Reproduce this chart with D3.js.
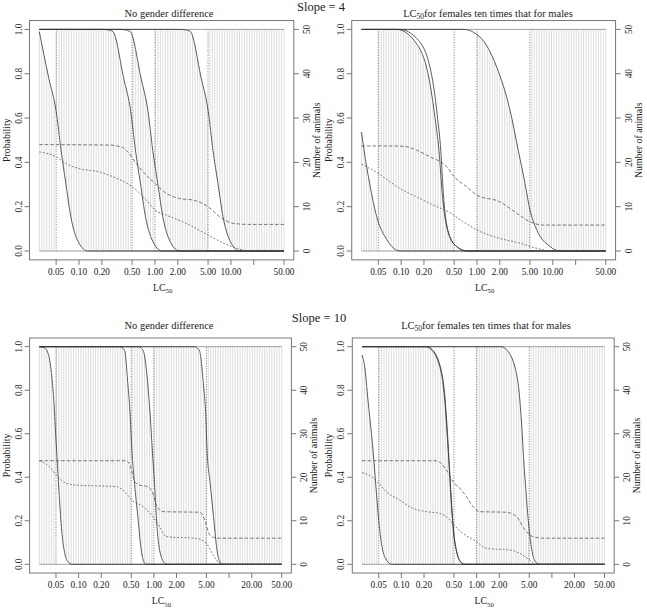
<!DOCTYPE html>
<html><head><meta charset="utf-8">
<script src="https://cdn.jsdelivr.net/npm/d3@7"></script>
<style>
body{margin:0;background:#fff}
svg{display:block}
text{font-family:"Liberation Serif","Times New Roman",serif;fill:#222}
</style>
</head><body>
<svg id="c" width="647" height="608"></svg>
<script>
// ---------- data ----------
const xTicks = [0.05, 0.1, 0.2, 0.5, 1, 2, 5, 10, 20, 50];
const xTickLabelsTop = ["0.05","0.10","0.20","0.50","1.00","2.00","5.00","10.00","","50.00"];
const xTickLabelsBottom = ["0.05","0.10","0.20","0.50","1.00","2.00","5.00","","20.00","50.00"];
const probTicks = [0, 0.2, 0.4, 0.6, 0.8, 1.0];
const probTickLabels = ["0.0","0.2","0.4","0.6","0.8","1.0"];
const animalTicks = [0, 10, 20, 30, 40, 50];
const cutoffs = [0.05, 0.5, 1, 5];
const lc50Range = [0.03, 50];
const gridCount = 100;
const slopeLabels = ["Slope = 4", "Slope = 10"];
const panelTitles = ["No gender difference", "for females ten times that for males"];

// cumulative classification probabilities (LC50, probability)
const tlCat1 = [[0.03,0.99],[0.04,0.78],[0.05,0.63],[0.058,0.455],[0.067,0.305],[0.078,0.155],[0.10,0.035],[0.13,0],[50,0]];
const tlCat2 = [[0.03,1],[0.2,1],[0.24,0.998],[0.28,0.99],[0.387,0.78],[0.48,0.63],[0.553,0.455],[0.644,0.305],[0.75,0.155],[0.965,0.035],[1.24,0],[50,0]];
const tlCat3 = [[0.03,1],[0.34,1],[0.40,0.998],[0.473,0.99],[0.655,0.78],[0.81,0.63],[0.935,0.455],[1.088,0.305],[1.267,0.155],[1.63,0.035],[2.1,0],[50,0]];
const tlCat4 = [[0.03,1],[2.1,1],[2.5,0.998],[2.93,0.99],[4.06,0.78],[5.03,0.63],[5.8,0.455],[6.75,0.305],[7.86,0.155],[10.1,0.035],[13.0,0],[50,0]];
const tlAnimalsA = [[0.03,24],[0.25,23.9],[0.37,23.4],[0.44,22.35],[0.565,19.75],[0.77,17.1],[1.0,15.25],[1.41,13],[2.1,11.85],[3.16,11.5],[5,10],[7.1,7.75],[10.7,6.25],[17,6],[50,6]];
const tlAnimalsB = [[0.03,22.35],[0.05,21.25],[0.067,19.75],[0.10,18.6],[0.185,17.85],[0.28,16.75],[0.5,14.5],[0.77,11.5],[1.0,9.25],[1.41,8.1],[2.58,6.25],[5,3.6],[8.7,1.5],[13,0.4],[17.7,0],[50,0]];

const trCat1 = [[0.03,0.537],[0.0324,0.455],[0.0384,0.305],[0.0476,0.155],[0.065,0.05],[0.097,0],[50,0]];
const trCat2 = [[0.03,1],[0.0875,1],[0.16,0.935],[0.24,0.755],[0.28,0.60],[0.315,0.455],[0.35,0.25],[0.42,0.08],[0.54,0.02],[0.73,0],[50,0]];
const trCat3 = [[0.03,1],[0.095,1],[0.17,0.95],[0.26,0.77],[0.30,0.61],[0.333,0.455],[0.36,0.26],[0.42,0.085],[0.54,0.02],[0.75,0],[50,0]];
const trCat4 = [[0.03,1],[0.66,1],[1.1,0.965],[1.82,0.83],[2.73,0.635],[3.5,0.455],[4.3,0.305],[5.0,0.185],[6.15,0.095],[9.2,0.02],[12.5,0],[50,0]];
const trAnimalsA = [[0.03,23.7],[0.08,23.7],[0.12,23.5],[0.16,22.75],[0.24,21.25],[0.4,19],[0.5,16.75],[0.73,14.5],[1.0,12.6],[2.0,11.1],[3.35,8.5],[5,6.6],[7.5,5.85],[50,5.85]];
const trAnimalsB = [[0.03,19.6],[0.05,17.5],[0.0966,14.1],[0.177,11.85],[0.266,10.35],[0.42,8.85],[0.66,6.6],[1.0,4.75],[2.0,2.85],[3.7,1.75],[6.15,0.6],[10.2,0],[50,0]];

const blCat1 = [[0.03,1],[0.035,0.995],[0.040,0.96],[0.044,0.86],[0.047,0.74],[0.050,0.57],[0.053,0.42],[0.0565,0.26],[0.0605,0.13],[0.065,0.055],[0.072,0.012],[0.082,0],[50,0]];
const blCat2 = [[0.03,1],[0.35,1],[0.407,0.985],[0.451,0.83],[0.485,0.68],[0.51,0.525],[0.553,0.372],[0.612,0.22],[0.679,0.066],[0.752,0.005],[0.8,0],[50,0]];
const blCat3 = [[0.03,1],[0.62,1],[0.715,0.985],[0.83,0.83],[0.895,0.68],[0.953,0.525],[1.02,0.372],[1.077,0.219],[1.19,0.066],[1.39,0.005],[1.5,0],[50,0]];
const blCat4 = [[0.03,1],[3.4,1],[4.0,0.985],[4.55,0.83],[4.9,0.68],[5.09,0.525],[5.6,0.372],[6.2,0.22],[6.9,0.066],[7.7,0.005],[8.2,0],[50,0]];
const blAnimalsA = [[0.03,23.8],[0.43,23.8],[0.5,22],[0.553,19],[0.646,18.2],[0.83,17.85],[0.97,16.3],[1.077,13.6],[1.32,12.1],[4.07,11.95],[4.74,10.2],[5.53,6.75],[6.8,6],[50,6]];
const blAnimalsB = [[0.03,23.8],[0.033,23.5],[0.0407,22.45],[0.0525,20.15],[0.068,18.6],[0.093,18.2],[0.316,17.85],[0.43,16.3],[0.51,14.75],[0.715,13.25],[0.97,10.95],[1.19,8.65],[1.46,6.35],[3.68,5.95],[5.0,4.8],[6.12,2.15],[7.52,0.25],[9.24,0],[50,0]];

const brCat1 = [[0.03,0.962],[0.0326,0.908],[0.036,0.755],[0.04,0.602],[0.042,0.525],[0.0456,0.372],[0.0495,0.219],[0.0543,0.097],[0.0633,0.02],[0.074,0],[50,0]];
const brCat2 = [[0.03,1],[0.21,1],[0.238,0.993],[0.324,0.908],[0.377,0.755],[0.405,0.602],[0.425,0.49],[0.445,0.37],[0.47,0.24],[0.50,0.13],[0.54,0.06],[0.6,0.015],[0.68,0],[50,0]];
const brCat3 = [[0.03,1],[0.22,1],[0.245,0.993],[0.33,0.908],[0.382,0.755],[0.41,0.602],[0.428,0.49],[0.448,0.37],[0.472,0.24],[0.502,0.13],[0.542,0.06],[0.6,0.015],[0.7,0],[50,0]];
const brCat4 = [[0.03,1],[2.1,1],[2.37,0.993],[3.22,0.908],[3.75,0.755],[4.03,0.602],[4.2,0.49],[4.45,0.37],[4.75,0.24],[5.1,0.13],[5.45,0.06],[5.95,0.015],[6.9,0],[50,0]];
const brAnimalsA = [[0.03,23.8],[0.29,23.8],[0.397,21.65],[0.486,19],[0.597,17.45],[0.733,15.55],[0.897,13.25],[1.1,12.1],[2.5,11.95],[3.39,10.95],[4.37,7.9],[5.64,6.35],[7.65,6],[50,6]];
const brAnimalsB = [[0.03,21.05],[0.04,20.15],[0.05,18.6],[0.063,16.7],[0.095,14.75],[0.143,12.85],[0.215,12.1],[0.324,11.7],[0.44,10.2],[0.5,9.05],[0.66,7.1],[1.0,5.2],[1.35,3.65],[2.76,3.3],[3.75,2.5],[5.09,1.0],[6.25,0],[50,0]];

// ---------- drawing ----------
const svg = d3.select("#c");
const lc50Grid = d3.range(gridCount).map(i => Math.exp(Math.log(lc50Range[0]) + i/(gridCount-1)*(Math.log(lc50Range[1])-Math.log(lc50Range[0]))));

function sampler(node){
  const L = node.getTotalLength(), pts = [];
  for (let s = 0; s <= L; s += 0.5){ const q = node.getPointAtLength(s); pts.push([q.x, q.y]); }
  const q = node.getPointAtLength(L); pts.push([q.x, q.y]);
  return sx => {
    let lo = 0, hi = pts.length - 1;
    if (sx <= pts[0][0]) return pts[0][1];
    if (sx >= pts[hi][0]) return pts[hi][1];
    while (hi - lo > 1){ const m = (lo + hi) >> 1; if (pts[m][0] <= sx) lo = m; else hi = m; }
    const a = pts[lo], b = pts[hi];
    const t = (b[0] - a[0]) > 1e-9 ? (sx - a[0]) / (b[0] - a[0]) : 0;
    return a[1] + t * (b[1] - a[1]);
  };
}

function drawPanel(p){
  const g = svg.append("g");
  const x = d3.scaleLog().domain(lc50Range).range([p.x0, p.x1]);
  const y = d3.scaleLinear().domain([0, 1]).range([p.yb, p.yt]);
  const yN = d3.scaleLinear().domain([0, 50]).range([p.yb, p.yt]);
  const padX = 0.04 * (p.x1 - p.x0), padY = 0.04 * (p.yb - p.yt);
  const bx0 = p.x0 - padX, bx1 = p.x1 + padX, by0 = p.yt - padY, by1 = p.yb + padY;

  const lineP = d3.line().x(d => x(d[0])).y(d => y(d[1])).curve(d3.curveMonotoneX);
  const lineN = d3.line().x(d => x(d[0])).y(d => yN(d[1])).curve(d3.curveMonotoneX);

  const gGrey = g.append("g");
  // cutoff lines
  g.append("g").selectAll("line").data(cutoffs).join("line")
    .attr("x1", d => x(d)).attr("x2", d => x(d))
    .attr("y1", y(0)).attr("y2", y(1))
    .attr("stroke", "#555").attr("stroke-width", 0.8).attr("stroke-dasharray", "1,1.6");
  // constant bounds
  [0, 1].forEach(v => g.append("line").attr("x1", x(lc50Range[0])).attr("x2", x(lc50Range[1]))
    .attr("y1", y(v)).attr("y2", y(v)).attr("stroke", "#888").attr("stroke-width", 0.8));
  // cumulative curves
  const paths = p.cum.map(c => g.append("path").attr("d", lineP(c)).attr("fill", "none")
    .attr("stroke", "#333").attr("stroke-width", 0.8));
  // animals
  g.append("path").attr("d", lineN(p.animalsA)).attr("fill", "none").attr("stroke", "#555")
    .attr("stroke-width", 0.8).attr("stroke-dasharray", "3.5,2");
  g.append("path").attr("d", lineN(p.animalsB)).attr("fill", "none").attr("stroke", "#555")
    .attr("stroke-width", 0.8).attr("stroke-dasharray", "1.8,1.8");

  // grey vertical lines: probability of the correct category
  const fns = [() => y(0), ...paths.map(pa => sampler(pa.node())), () => y(1)];
  lc50Grid.forEach(v => {
    const k = d3.bisectRight(cutoffs, v);
    const sx = x(v);
    const lo = fns[k](sx), hi = fns[k + 1](sx);
    if (lo - hi > 0.3) gGrey.append("line").attr("x1", sx).attr("x2", sx).attr("y1", lo).attr("y2", hi)
      .attr("stroke", "#d4d4d4").attr("stroke-width", 0.8);
  });

  // box
  g.append("rect").attr("x", bx0).attr("y", by0).attr("width", bx1 - bx0).attr("height", by1 - by0)
    .attr("fill", "none").attr("stroke", "#777").attr("stroke-width", 1);

  const fs = 9.3;
  // x axis
  const ax = g.append("g");
  xTicks.forEach((t, i) => {
    ax.append("line").attr("x1", x(t)).attr("x2", x(t)).attr("y1", by1).attr("y2", by1 + 5).attr("stroke", "#777");
    if (p.xLabels[i]) ax.append("text").attr("x", x(t)).attr("y", by1 + 15).attr("text-anchor", "middle")
      .attr("font-size", fs).text(p.xLabels[i]);
  });
  const lc = ax.append("text").attr("x", (bx0 + bx1) / 2 + 1).attr("y", by1 + 31).attr("text-anchor", "middle").attr("font-size", fs + 0.5);
  lc.append("tspan").text("LC");
  lc.append("tspan").attr("font-size", fs - 2.5).attr("dy", 2.5).text("50");

  // left axis
  probTicks.forEach((t, i) => {
    g.append("line").attr("x1", bx0).attr("x2", bx0 - 5).attr("y1", y(t)).attr("y2", y(t)).attr("stroke", "#777");
    g.append("text").attr("transform", `translate(${bx0 - 8},${y(t)}) rotate(-90)`).attr("text-anchor", "middle")
      .attr("font-size", fs).text(probTickLabels[i]);
  });
  g.append("text").attr("transform", `translate(${bx0 - 20},${(by0 + by1) / 2}) rotate(-90)`).attr("text-anchor", "middle")
    .attr("font-size", fs + 0.5).text("Probability");
  // right axis
  animalTicks.forEach(t => {
    g.append("line").attr("x1", bx1).attr("x2", bx1 + 5).attr("y1", yN(t)).attr("y2", yN(t)).attr("stroke", "#777");
    g.append("text").attr("transform", `translate(${bx1 + 16},${yN(t)}) rotate(-90)`).attr("text-anchor", "middle")
      .attr("font-size", fs).text(t);
  });
  g.append("text").attr("transform", `translate(${bx1 + 26},${(by0 + by1) / 2}) rotate(-90)`).attr("text-anchor", "middle")
    .attr("font-size", fs + 0.5).text("Number of animals");

  // title
  const tt = g.append("text").attr("x", p.titleX).attr("y", by0 - p.titleGap).attr("text-anchor", "middle").attr("font-size", 10.5);
  if (p.lcTitle){
    tt.append("tspan").text("LC");
    tt.append("tspan").attr("font-size", 7.5).attr("dy", 2.5).text("50");
    tt.append("tspan").attr("dy", -2.5).text(panelTitles[1]);
  } else tt.text(panelTitles[0]);
}

drawPanel({x0: 39.3, x1: 284.0, yt: 29.4, yb: 251, cum: [tlCat1, tlCat2, tlCat3, tlCat4], animalsA: tlAnimalsA, animalsB: tlAnimalsB, xLabels: xTickLabelsTop, titleX: 169, titleGap: 4, lcTitle: false});
drawPanel({x0: 361.5, x1: 605.8, yt: 29.4, yb: 251, cum: [trCat1, trCat2, trCat3, trCat4], animalsA: trAnimalsA, animalsB: trAnimalsB, xLabels: xTickLabelsTop, titleX: 488, titleGap: 4, lcTitle: true});
drawPanel({x0: 39.3, x1: 281.7, yt: 346.7, yb: 564.3, cum: [blCat1, blCat2, blCat3, blCat4], animalsA: blAnimalsA, animalsB: blAnimalsB, xLabels: xTickLabelsBottom, titleX: 169, titleGap: 9, lcTitle: false});
drawPanel({x0: 362, x1: 604.5, yt: 346.7, yb: 564.3, cum: [brCat1, brCat2, brCat3, brCat4], animalsA: brAnimalsA, animalsB: brAnimalsB, xLabels: xTickLabelsBottom, titleX: 486, titleGap: 9, lcTitle: true});

svg.append("text").attr("x", 321).attr("y", 10.5).attr("text-anchor", "middle").attr("font-size", 12.5).text(slopeLabels[0]);
svg.append("text").attr("x", 319).attr("y", 322).attr("text-anchor", "middle").attr("font-size", 12.5).text(slopeLabels[1]);
</script>
</body></html>
